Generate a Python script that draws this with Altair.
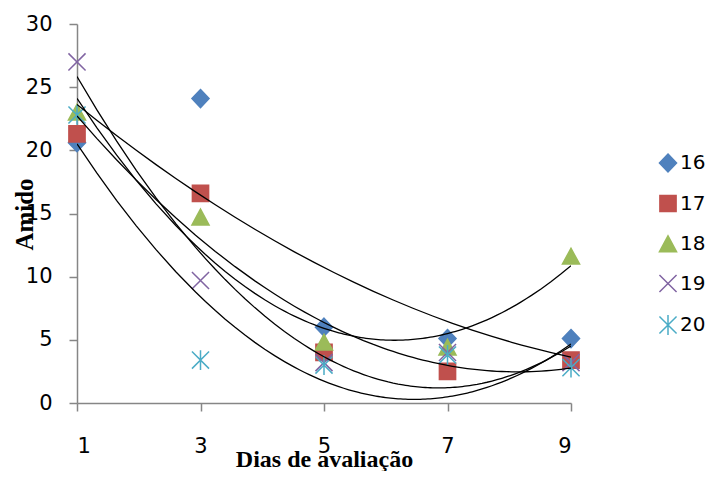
import altair as alt
import pandas as pd

days = [1, 3, 5, 7, 9]
series_names = ["16", "17", "18", "19", "20"]
s16 = [20.6, 24.1, 6.0, 5.1, 5.1]
s17 = [21.3, 16.6, 4.0, 2.5, 3.4]
s18 = [23.0, 14.7, 4.8, 4.4, 11.6]
s19 = [27.0, 9.7, 3.2, 4.0, 3.2]
s20 = [22.8, 3.4, 3.0, 3.8, 2.8]
colors = ["#4F81BD", "#C0504D", "#9BBB59", "#8064A2", "#4BACC6"]
shapes = [
    "M0,-1L0.95,0L0,1L-0.95,0Z",
    "M-0.9,-0.9L0.9,-0.9L0.9,0.9L-0.9,0.9Z",
    "M0,-0.9L0.95,0.85L-0.95,0.85Z",
    "M-0.95,-0.95L0.95,0.95M-0.95,0.95L0.95,-0.95",
    "M-0.95,-0.95L0.95,0.95M-0.95,0.95L0.95,-0.95M0,-1.1L0,1.1",
]

rows = []
for name, vals in zip(series_names, [s16, s17, s18, s19, s20]):
    for d, v in zip(days, vals):
        rows.append({"day": d, "value": v, "series": name})
df = pd.DataFrame(rows)

leg = alt.Legend(
    title=None, orient="none", legendX=581, legendY=129,
    labelFont="DejaVu Sans", labelFontSize=20, labelColor="#000000",
    symbolSize=324, symbolStrokeWidth=1.5, rowPadding=16.5, labelOffset=2,
    labelLimit=200, padding=0,
)

xscale = alt.Scale(domain=[1, 9], nice=False, zero=False)
yscale = alt.Scale(domain=[0, 30], nice=False)

xaxis = alt.Axis(
    values=days, format="d", grid=False, domainColor="#868686", domainWidth=1.5,
    tickColor="#868686", tickWidth=1.5, tickSize=8,
    labelFont="DejaVu Sans", labelFontSize=21, labelColor="#000000", labelPadding=24,
    title="Dias de avaliação", titleFont="Liberation Serif", titleFontWeight="bold",
    titleFontSize=24, titleColor="#000000", titleX=247, titleY=63,
    titleBaseline="alphabetic", titleAlign="center",
)
yaxis = alt.Axis(
    values=[0, 5, 10, 15, 20, 25, 30], format="d", grid=False, domainColor="#868686", domainWidth=1.5,
    tickColor="#868686", tickWidth=1.5, tickSize=8,
    labelFont="DejaVu Sans", labelFontSize=21, labelColor="#000000", labelPadding=17,
    title="Amido", titleFont="Liberation Serif", titleFontWeight="bold",
    titleFontSize=25, titleColor="#000000", titleAngle=270, titleX=-45, titleY=190,
    titleBaseline="alphabetic", titleAlign="center",
)

points = alt.Chart(df).mark_point(size=324, strokeWidth=1.5, opacity=1, filled=False).encode(
    x=alt.X("day:Q", scale=xscale, axis=xaxis),
    y=alt.Y("value:Q", scale=yscale, axis=yaxis),
    shape=alt.Shape("series:N", scale=alt.Scale(domain=series_names, range=shapes), legend=leg),
    fill=alt.Fill("series:N", scale=alt.Scale(domain=series_names, range=colors), legend=leg),
    stroke=alt.Stroke("series:N", scale=alt.Scale(domain=series_names, range=colors), legend=leg),
)

lines = alt.Chart(df).transform_regression(
    "day", "value", groupby=["series"], method="poly", order=2
).mark_line(color="#000000", strokeWidth=1.3, clip=True).encode(
    x=alt.X("day:Q", scale=xscale),
    y=alt.Y("value:Q", scale=yscale),
    detail="series:N",
)

chart = alt.layer(points, lines).properties(
    width=494, height=379,
    autosize=alt.AutoSizeParams(type="none"),
    padding={"left": 69, "top": 16, "right": 135, "bottom": 68},
).configure_view(stroke=None)

chart.save("out.html", embed_options={"renderer": "svg", "actions": False})
